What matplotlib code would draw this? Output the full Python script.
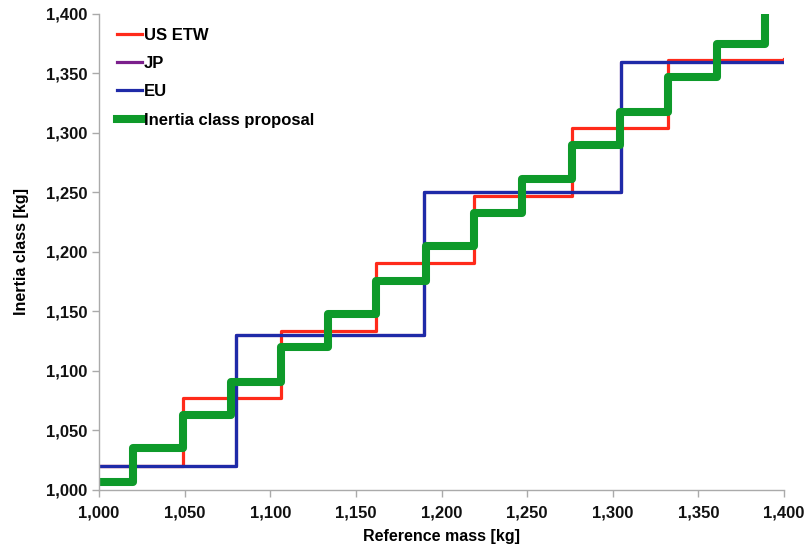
import numpy as np
import matplotlib
matplotlib.use('Agg')
import matplotlib.pyplot as plt
from matplotlib.ticker import FuncFormatter

plt.rcParams['font.family'] = ['Liberation Sans', 'DejaVu Sans']

# step levels (kg): x = start of each class band, y = inertia class
us_x = [1000, 1049, 1106, 1162, 1219, 1276, 1332, 1400]
us_y = [1020, 1077, 1134, 1191, 1247, 1304, 1361, 1362]

jp_x = [1000, 1080, 1190, 1305, 1400]
jp_y = [1020, 1130, 1250, 1360, 1360]

eu_x = [1000, 1080, 1190, 1305, 1400]
eu_y = [1020, 1130, 1250, 1360, 1360]

prop_x = [1000, 1020, 1049, 1077, 1106, 1134, 1162, 1191, 1219, 1247,
          1276, 1304, 1332, 1361, 1389]
prop_y = [1007, 1035, 1063, 1091, 1120, 1148, 1176, 1205, 1233, 1261,
          1290, 1318, 1347, 1375, 1403]

fig = plt.figure(figsize=(8.08, 5.52), dpi=100)
ax = fig.add_axes([99/808, 62/552, 685/808, 476/552])

ax.step(us_x, us_y, where='post', color='#ff2a1a', lw=2.3, label='US ETW')
ax.step(jp_x, jp_y, where='post', color='#7b1f8c', lw=2.3, label='JP')
ax.step(eu_x, eu_y, where='post', color='#1f2aa8', lw=2.3, label='EU')
ax.step(prop_x, prop_y, where='post', color='#0e9a2a', lw=5.8,
        label='Inertia class proposal')

ax.set_xlim(1000, 1400)
ax.set_ylim(1000, 1400)
ax.set_xticks(np.arange(1000, 1401, 50))
ax.set_yticks(np.arange(1000, 1401, 50))
fmt = FuncFormatter(lambda v, p: '{:,.0f}'.format(v))
ax.xaxis.set_major_formatter(fmt)
ax.yaxis.set_major_formatter(fmt)

for s in ['top', 'right']:
    ax.spines[s].set_visible(False)
for s in ['left', 'bottom']:
    ax.spines[s].set_color('#aaaaaa')
    ax.spines[s].set_linewidth(1.0)
ax.tick_params(colors='#aaaaaa', length=5, width=1.0, labelcolor='#111111',
               labelsize=12)
ax.tick_params(axis='x', pad=6)
for t in ax.get_xticklabels() + ax.get_yticklabels():
    t.set_fontweight('bold')

ax.set_xlabel('Reference mass [kg]', fontsize=11.5, fontweight='bold', labelpad=6)
ax.set_ylabel('Inertia class [kg]', fontsize=11.5, fontweight='bold', labelpad=12)

leg = ax.legend(loc='upper left', bbox_to_anchor=(0.005, 1.003), frameon=False,
                prop={'size': 12, 'weight': 'bold'}, handlelength=1.5,
                handletextpad=0.1, labelspacing=0.8)

fig.savefig('out.png', dpi=100)
